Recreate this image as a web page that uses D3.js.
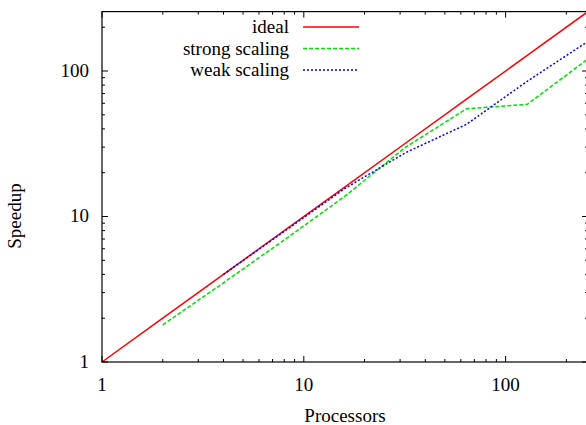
<!DOCTYPE html>
<html>
<head>
<meta charset="utf-8">
<script src="https://cdn.jsdelivr.net/npm/d3@7"></script>
<style>
  body { margin: 0; background: #fff; }
</style>
</head>
<body>
<svg id="chart" width="586" height="425"></svg>
<script>
// data
const procs = [1, 2, 4, 8, 16, 32, 64, 128, 256];
const ideal = [1, 2, 4, 8, 16, 32, 64, 128, 256];
const strongProcs = [2, 4, 8, 16, 32, 64, 128, 256];
const strongSpeedup = [1.8, 3.5, 6.9, 13.8, 30, 55, 59, 121];
const weakProcs = [4, 8, 16, 32, 64, 128, 256];
const weakSpeedup = [4, 7.9, 15.6, 27.5, 43, 85, 160];
const majorTicks = [1, 10, 100];
const seriesNames = ["ideal", "strong scaling", "weak scaling"];
const seriesColors = ["#ff0000", "#00e000", "#0000ff"];
const seriesDash = [null, "4,2", "2,2"];

const svg = d3.select("#chart");
const plotLeft = 102, plotRight = 588, plotTop = 11.6, plotBottom = 362;

const x = d3.scaleLog().domain([1, 256]).range([plotLeft, plotRight]);
const y = d3.scaleLog().domain([1, 256]).range([plotBottom, plotTop]);

// minor ticks 2..9 per decade
const minor = [];
[1, 10, 100].forEach(d => {
  for (let k = 2; k <= 9; k++) if (d * k <= 256) minor.push(d * k);
});

// text straight on the svg, anchored by measuring its width
function addText(tx, ty, str, anchor, rot) {
  const t = svg.append("text")
    .attr("font-family", "Liberation Serif")
    .attr("font-size", 19)
    .text(str);
  const w = t.node().getComputedTextLength();
  const shift = anchor === "end" ? w : anchor === "middle" ? w / 2 : 0;
  if (rot) {
    t.attr("transform", `translate(${tx},${ty}) rotate(${rot})`).attr("x", -shift).attr("y", 0);
  } else {
    t.attr("x", tx - shift).attr("y", ty);
  }
}

// ticks (all inward, mirrored)
const tickG = svg.append("g").attr("stroke", "#000").attr("stroke-width", 1);
function ticks(vals, len) {
  vals.forEach(v => {
    const xv = x(v), yv = y(v);
    tickG.append("line").attr("x1", xv).attr("x2", xv).attr("y1", plotBottom).attr("y2", plotBottom - len);
    tickG.append("line").attr("x1", xv).attr("x2", xv).attr("y1", plotTop).attr("y2", plotTop + len);
    tickG.append("line").attr("y1", yv).attr("y2", yv).attr("x1", plotLeft).attr("x2", plotLeft + len);
    tickG.append("line").attr("y1", yv).attr("y2", yv).attr("x1", plotRight).attr("x2", plotRight - len);
  });
}
ticks(majorTicks, 6);
ticks(minor, 3);

// tick labels
majorTicks.forEach(d => addText(89, y(d) + 6, String(d), "end"));
majorTicks.forEach(d => addText(x(d), 391, String(d), "middle"));

// axis titles
addText(345, 422, "Processors", "middle");
addText(21, 216, "Speedup", "middle", -90);

// series
const series = [
  procs.map((p, i) => [p, ideal[i]]),
  strongProcs.map((p, i) => [p, strongSpeedup[i]]),
  weakProcs.map((p, i) => [p, weakSpeedup[i]])
];

const line = d3.line().x(d => x(d[0])).y(d => y(d[1]));

series.forEach((s, i) => {
  svg.append("path")
    .datum(s)
    .attr("d", line)
    .attr("fill", "none")
    .attr("stroke", seriesColors[i])
    .attr("stroke-width", 1.5)
    .attr("stroke-dasharray", seriesDash[i]);
});

// legend
seriesNames.forEach((name, i) => {
  const ly = 27 + i * 21.5;
  addText(289, ly + 6, name, "end");
  svg.append("line")
    .attr("x1", 303).attr("x2", 359).attr("y1", ly).attr("y2", ly)
    .attr("stroke", seriesColors[i]).attr("stroke-width", 1.5)
    .attr("stroke-dasharray", seriesDash[i]);
});

// frame
svg.append("rect")
  .attr("x", plotLeft).attr("y", plotTop)
  .attr("width", plotRight - plotLeft).attr("height", plotBottom - plotTop)
  .attr("fill", "none").attr("stroke", "#000").attr("stroke-width", 1.2);
</script>
</body>
</html>
